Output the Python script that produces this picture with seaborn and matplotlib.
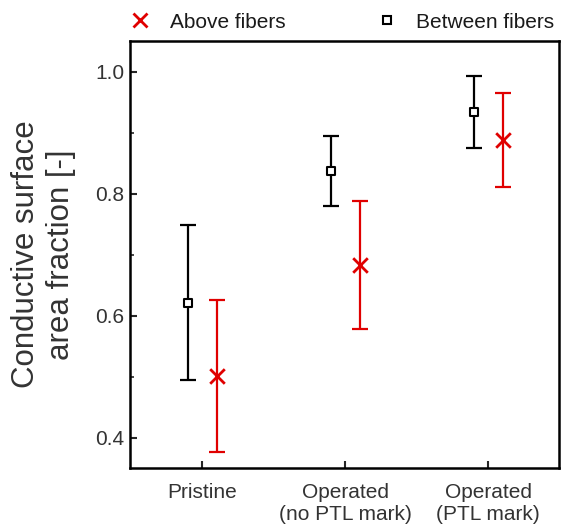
import numpy as np
import pandas as pd
import matplotlib
matplotlib.use("Agg")
import matplotlib.pyplot as plt
from matplotlib.lines import Line2D
import seaborn as sns

# data
conditions = ["Pristine", "Operated\n(no PTL mark)", "Operated\n(PTL mark)"]
between_mean = [0.621, 0.837, 0.934]
between_err = [0.127, 0.057, 0.059]
above_mean = [0.501, 0.683, 0.888]
above_err = [0.124, 0.105, 0.077]

RED = "#e00000"
TEXT = "#333333"

sns.set_style("ticks")
plt.rcParams["font.family"] = ["Liberation Sans", "DejaVu Sans"]

fig = plt.figure(figsize=(5.61, 5.25), dpi=100)
ax = fig.add_axes([130 / 561, 1 - 468 / 525, 429 / 561, 427 / 525])

pos = np.arange(len(conditions))
df_between = pd.DataFrame({"x": pos - 0.1, "y": between_mean, "err": between_err})
df_above = pd.DataFrame({"x": pos + 0.1, "y": above_mean, "err": above_err})

# error bars
ax.errorbar(df_between["x"], df_between["y"], yerr=df_between["err"], fmt="none",
            ecolor="black", elinewidth=1.6, capsize=6, capthick=1.6, zorder=2)
ax.errorbar(df_above["x"], df_above["y"], yerr=df_above["err"], fmt="none",
            ecolor=RED, elinewidth=1.6, capsize=6, capthick=1.6, zorder=2)

# markers
sns.scatterplot(data=df_between, x="x", y="y", ax=ax, marker="s", s=34,
                facecolor="white", edgecolor="black", linewidth=1.5, zorder=3)
sns.scatterplot(data=df_above, x="x", y="y", ax=ax, marker="x", s=110,
                color=RED, linewidth=2, zorder=3)

ax.set_xlim(-0.505, 2.495)
ax.set_ylim(0.35, 1.05)
ax.set_xticks(pos)
ax.set_xticklabels(conditions)
ax.set_yticks([0.4, 0.6, 0.8, 1.0])
ax.set_yticks([0.5, 0.7, 0.9], minor=True)
ax.set_xlabel("")
ax.set_ylabel("Conductive surface\narea fraction [-]", fontsize=22.5,
              color=TEXT, labelpad=14)

ax.tick_params(axis="both", which="major", direction="in", length=5, width=1.5,
               labelsize=15, labelcolor=TEXT)
ax.tick_params(axis="x", pad=11)
ax.tick_params(axis="y", pad=4)
ax.tick_params(axis="y", which="minor", direction="in", length=3, width=1.2)
for lab in ax.get_xticklabels():
    lab.set_linespacing(1.15)
for side in ["left", "right", "top", "bottom"]:
    ax.spines[side].set_visible(True)
    ax.spines[side].set_linewidth(1.8)
    ax.spines[side].set_color("black")

handles = [
    Line2D([], [], linestyle="none", marker="x", color=RED, markersize=10,
           markeredgewidth=2),
    Line2D([], [], linestyle="none", marker="s", markerfacecolor="white",
           markeredgecolor="black", markersize=5.5, markeredgewidth=1.5),
]
fig.legend(handles, ["Above fibers", "Between fibers"], loc="center left",
           bbox_to_anchor=(130 / 561, 1 - 22 / 525), ncol=2, frameon=False,
           fontsize=15, handlelength=1.0, handletextpad=0.9, columnspacing=4.4,
           borderpad=0, borderaxespad=0, labelcolor="#1a1a1a")

fig.savefig("out.png", dpi=100)
